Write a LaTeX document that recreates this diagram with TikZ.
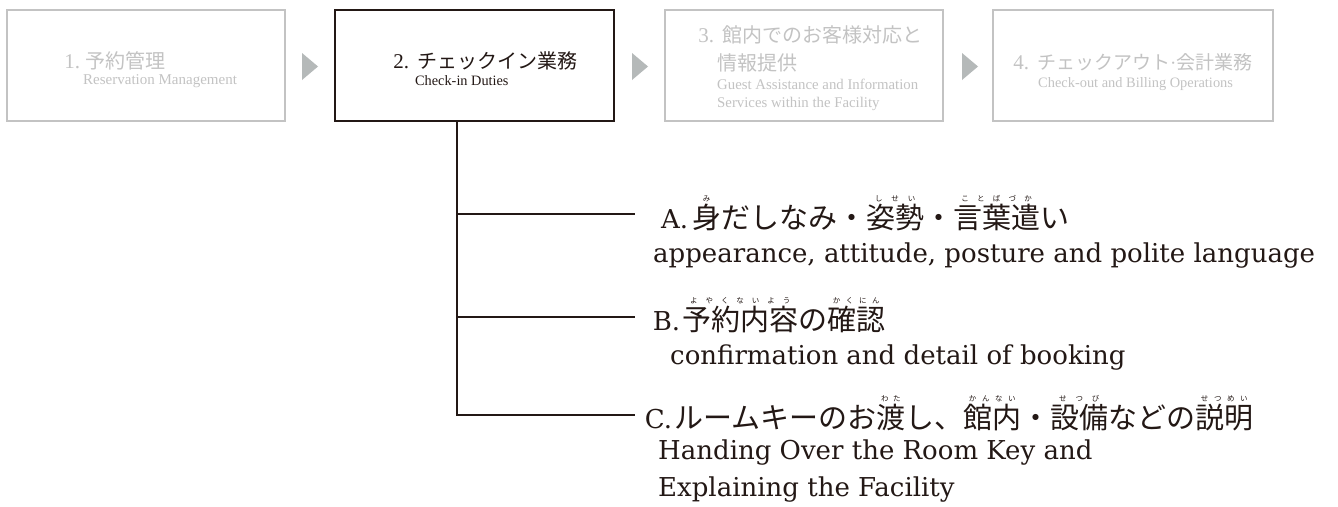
\documentclass[tikz,border=0pt]{standalone}
\usepackage{fontspec}
\setmainfont{Liberation Serif}
\newfontfamily\jp{Noto Sans CJK JP}
\newfontfamily\dvs{DejaVu Serif}
\newfontfamily\lsf{Liberation Serif}
\definecolor{ink}{HTML}{231815}
\definecolor{lgray}{HTML}{C3C3C3}
\definecolor{tgray}{HTML}{B5B9B9}
\newcommand\rb[2]{\leavevmode\setbox0\hbox{#1}\rlap{\raisebox{0.93em}{\hbox to \wd0{\fontsize{7.5}{8}\selectfont\hss#2\hss}}}\box0}
\newcommand\numlab[2]{\llap{\lsf\fontsize{21}{24}\selectfont #1\hspace{#2}}}
\begin{document}
\begin{tikzpicture}[x=1pt,y=-1pt,
  gbox/.style={draw=lgray,line width=2pt,minimum height=111pt,inner sep=0pt},
  kbox/.style={draw=ink,line width=2pt,minimum height=111pt,inner sep=0pt},
  txt/.style={inner sep=0pt,anchor=base west},
  gtxt/.style={txt,text=lgray},
  ktxt/.style={txt,text=ink},
  jtitle/.style={font=\jp\fontsize{20}{24}\selectfont},
  jbig/.style={font=\jp\fontsize{29}{32}\selectfont},
  enbig/.style={font=\dvs\fontsize{26}{30}\selectfont},
  link/.style={draw=ink,line width=2pt}]
\fill[white] (0,0) rectangle (1338,506);
\useasboundingbox (0,0) rectangle (1338,506);
% boxes
\node[gbox,minimum width=278pt] (b1) at (146,65.5) {};
\node[kbox,minimum width=279pt] (b2) at (474.5,65.5) {};
\node[gbox,minimum width=278pt] (b3) at (804,65.5) {};
\node[gbox,minimum width=280pt] (b4) at (1133,65.5) {};
% triangles
\fill[tgray] (302,53) -- (318,66.5) -- (302,80) -- cycle;
\fill[tgray] (632,53) -- (648,66.5) -- (632,80) -- cycle;
\fill[tgray] (962,53) -- (978,66.5) -- (962,80) -- cycle;
% box texts
\node[gtxt,jtitle] (b1j) at (85,68) {\numlab{1.}{5pt}予約管理};
\node[gtxt,font=\fontsize{15}{18}\selectfont] (b1e) at (83,84) {Reservation Management};
\node[ktxt,jtitle] (b2j) at (417,68) {\numlab{2.}{8pt}チェックイン業務};
\node[ktxt,font=\fontsize{14.3}{17}\selectfont] (b2e) at (415,85) {Check-in Duties};
\node[gtxt,jtitle] (b3j) at (722,42) {\numlab{3.}{8pt}館内でのお客様対応と};
\node[gtxt,jtitle] (b3k) at (717,70) {情報提供};
\node[gtxt,font=\fontsize{14.8}{17}\selectfont] (b3e) at (717,89) {Guest Assistance and Information};
\node[gtxt,font=\fontsize{14.8}{17}\selectfont] (b3f) at (717,107) {Services within the Facility};
\node[gtxt,font=\jp\fontsize{19}{22}\selectfont] (b4j) at (1037,69) {\numlab{4.}{8pt}チェックアウト{\lsf ·}会計業務};
\node[gtxt,font=\fontsize{14.4}{17}\selectfont] (b4e) at (1038,87) {Check-out and Billing Operations};
% tree
\coordinate (jA) at (457,214);
\coordinate (eA) at (635,214);
\coordinate (jB) at (457,317);
\coordinate (eB) at (635,317);
\coordinate (jC) at (457,415);
\coordinate (eC) at (635,415);
\draw[link] (jA |- b2.south) -- (jC) -- (eC);
\draw[link] (jA) -- (eA);
\draw[link] (jB) -- (eB);
% items
\node[ktxt,jbig] (ia) at (692,228) {\llap{\dvs\fontsize{26}{30}\selectfont A.\hspace{4pt}}\rb{身}{み}だしなみ・\rb{姿勢}{し\hfil せ\hfil い}・\rb{言葉遣}{こ\hfil と\hfil ば\hfil づ\hfil か}い};
\node[ktxt,enbig] (iae) at (653,262) {appearance, attitude, posture and polite language};
\node[ktxt,jbig] (ib) at (682,330) {\llap{\dvs\fontsize{26}{30}\selectfont B.\hspace{2pt}}\rb{予約内容}{よ\hfil や\hfil く\hfil な\hfil い\hfil よ\hfil う}の\rb{確認}{か\hfil く\hfil に\hfil ん}};
\node[ktxt,enbig] (ibe) at (670,364) {confirmation and detail of booking};
\node[ktxt,jbig] (ic) at (674,428) {\llap{\dvs\fontsize{26}{30}\selectfont C.\hspace{2pt}}ルームキーのお\rb{渡}{わ\hfil た}し、\rb{館内}{か\hfil ん\hfil な\hfil い}・\rb{設備}{せ\hfil つ\hfil び}などの\rb{説明}{せ\hfil つ\hfil め\hfil い}};
\node[ktxt,enbig] (ice) at (658,459) {Handing Over the Room Key and};
\node[ktxt,enbig] (icf) at (658,496) {Explaining the Facility};
\end{tikzpicture}
\end{document}
